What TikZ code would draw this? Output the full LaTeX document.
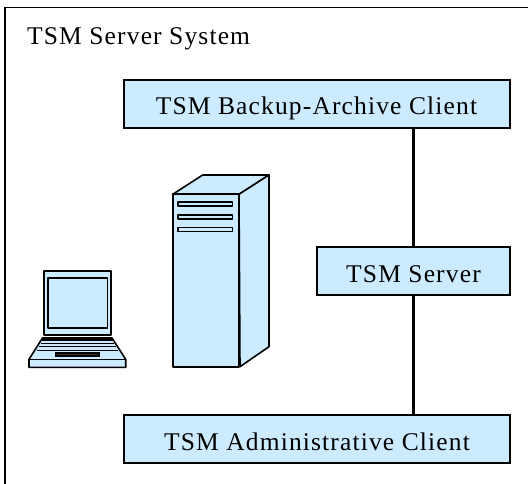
\documentclass[tikz,border=0pt]{standalone}
\usepackage{fontspec}
\setmainfont{Liberation Serif}[LetterSpace=4.5]
\definecolor{boxblue}{HTML}{CCEBFF}
\tikzset{
  bluebox/.style={draw=black,fill=boxblue,line width=1.7pt,inner sep=0pt},
  boxtext/.style={anchor=base,inner sep=0pt,font=\fontsize{25.5}{28}\selectfont,text=black},
  link/.style={draw=black,line width=3.3pt},
  art/.style={draw=black,fill=boxblue,line width=1.6pt,line join=round},
  thinart/.style={draw=black,fill=boxblue,line width=1.3pt,line join=round},
  keyline/.style={draw=black,line width=1.5pt}
}
\begin{document}
\begin{tikzpicture}[x=1pt,y=-1pt]
\useasboundingbox (0,0) rectangle (528,484);
\draw[line width=1.6pt] (5,490) -- (5,7.4) -- (535,7.4);
\node[boxtext,anchor=base west] (title) at (27,45) {TSM Server System};
\node[bluebox,minimum width=386pt,minimum height=48pt] (bac) at (317,103.8) {};
\node[boxtext] (bactext) at (316.5,114.5) {TSM Backup-Archive Client};
\node[bluebox,minimum width=193pt,minimum height=48pt] (srv) at (413.5,271) {};
\node[boxtext] (srvtext) at (413.5,282.5) {TSM Server};
\node[bluebox,minimum width=386pt,minimum height=48pt] (adm) at (317,439) {};
\node[boxtext] (admtext) at (317,450) {TSM Administrative Client};
\draw[link] (bac.south -| srv.north) -- (srv.north);
\draw[link] (srv.south) -- (adm.north -| srv.south);
% server tower
\draw[art] (172.7,194.3) -- (202.7,175) -- (269,175) -- (239,194.3) -- cycle;
\draw[art] (239,194.3) -- (269,175) -- (269,346.7) -- (240,366.7) -- cycle;
\draw[art] (172.7,194.3) rectangle (239,366.7);
\foreach \y in {204,217,229.5}{
  \draw[thinart] (178,\y-2) rectangle (232.7,\y+2);
}
% laptop
\draw[art] (44,271) rectangle (111,335);
\draw[art] (48,277.7) rectangle (107.3,327.7);
\draw[art] (29,359.3) -- (42.5,338) -- (112,338) -- (125.7,359.3) -- (125.7,367.3) -- (29,367.3) -- cycle;
\draw[line width=1.6pt] (29,359.3) -- (125.7,359.3);
\draw[keyline] (42,340) -- (112.5,340);
\draw[keyline] (40.5,343.3) -- (114,343.3);
\draw[keyline] (39,346.7) -- (115.5,346.7);
\draw[keyline] (37,350.3) -- (117.5,350.3);
\draw[line width=1.6pt,fill=black!80] (56,352.8) rectangle (99,355.7);
\end{tikzpicture}
\end{document}
